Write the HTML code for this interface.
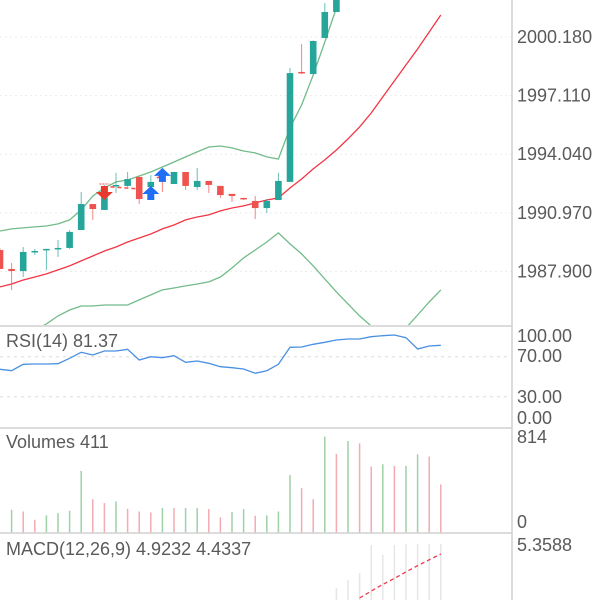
<!DOCTYPE html>
<html><head><meta charset="utf-8"><style>
html,body{margin:0;padding:0;background:#fff;}
svg{display:block;font-family:"Liberation Sans",sans-serif;}
</style></head><body>
<svg id="chart" width="600" height="600" viewBox="0 0 600 600" xmlns="http://www.w3.org/2000/svg">
<rect x="0" y="0" width="600" height="600" fill="#fff"/>
<g id="grid"></g>
<g id="main"></g>
<g id="rsi"></g>
<g id="vol"></g>
<g id="macd"></g>
<g id="frame">
<line x1="512" y1="0" x2="512" y2="600" stroke="#d0d0d0" stroke-width="1.5"/>
<line x1="0" y1="326" x2="512" y2="326" stroke="#d0d0d0" stroke-width="1.5"/>
<line x1="0" y1="428" x2="512" y2="428" stroke="#d0d0d0" stroke-width="1.5"/>
<line x1="0" y1="533" x2="512" y2="533" stroke="#d0d0d0" stroke-width="1.5"/>
</g>
<g id="labels" font-size="18" fill="#5a5a5a"></g>
</svg>
<script>
// ---- data ----
const idx = [-1,0,1,2,3,4,5,6,7,8,9,10,11,12,13,14,15,16,17,18,19,20,21,22,23,24,25,26,27,28,29,30,31,32,33,34,35,36,37];
const openV  = [1989.02,1988.03,1987.92,1988.95,1989.06,1989.11,1989.13,1990.07,1991.43,1991.12,1992.41,1992.38,1992.85,1992.32,1992.69,1992.48,1993.11,1992.32,1992.64,1992.38,1991.96,1991.75,1991.59,1991.22,1991.64,1992.59,1998.35,1998.24,2000.13,2001.49,2002.38,2003.4,2004.6,2005.5,2006.6,2007.2,2008.1,2008.9,2008.4];
const highV  = [1989.10,1988.34,1989.18,1989.08,1989.08,1989.55,1990.07,1992.06,1991.43,1992.43,1993.06,1993.11,1992.85,1992.95,1993.06,1993.11,1993.11,1993.32,1992.64,1992.38,1991.96,1991.75,1991.85,1991.69,1993.06,1998.56,1999.81,2000.00,2001.96,2002.90,2003.8,2004.9,2005.9,2006.9,2007.5,2008.4,2009.2,2009.3,2008.8];
const lowV   = [1988.00,1986.93,1987.61,1988.76,1987.98,1988.66,1989.08,1990.07,1990.59,1991.12,1992.01,1992.32,1991.43,1992.06,1992.06,1992.48,1992.17,1992.17,1992.01,1991.75,1991.54,1991.64,1990.65,1990.96,1991.64,1992.59,1998.24,1998.24,2000.13,2001.49,2002.2,2003.2,2004.4,2005.3,2006.3,2007.0,2007.9,2008.2,2007.9];
const closeV = [1988.03,1987.92,1988.92,1988.97,1989.08,1989.13,1989.97,1991.43,1991.17,1992.22,1992.43,1992.74,1991.69,1992.59,1992.59,1993.11,1992.38,1992.64,1992.43,1991.90,1991.85,1991.69,1991.22,1991.59,1992.64,1998.29,1998.29,1999.97,2001.49,2002.38,2003.4,2004.6,2005.5,2006.6,2007.2,2008.1,2008.9,2008.4,2008.1];
const bollUpper = [1990.02,1990.13,1990.18,1990.23,1990.28,1990.39,1990.60,1991.12,1991.85,1992.27,1992.59,1992.69,1992.90,1993.11,1993.37,1993.63,1993.90,1994.16,1994.42,1994.47,1994.37,1994.21,1994.11,1993.90,1993.79,1995.42,1996.62,1998.19,1999.92,2001.70,2003.5,2005.2,2006.8,2008.2,2009.5,2010.6,2011.6,2012.4,2013.0];
const bollMid = [1987.09,1987.24,1987.45,1987.61,1987.77,1987.98,1988.19,1988.45,1988.71,1988.97,1989.18,1989.44,1989.65,1989.86,1990.13,1990.33,1990.60,1990.75,1990.86,1991.07,1991.22,1991.33,1991.49,1991.64,1991.75,1992.27,1992.74,1993.27,1993.74,1994.26,1994.84,1995.47,1996.20,1997.04,1997.88,1998.72,1999.55,2000.44,2001.33];
const bollLower = [1984.05,1984.31,1984.57,1984.83,1985.15,1985.57,1985.88,1986.09,1986.09,1986.14,1986.14,1986.14,1986.41,1986.67,1986.93,1987.03,1987.14,1987.24,1987.35,1987.61,1988.08,1988.61,1989.02,1989.44,1989.92,1989.34,1988.82,1988.19,1987.51,1986.83,1986.20,1985.57,1985.04,1984.57,1984.42,1984.94,1985.62,1986.30,1986.93];
const priceTicks = [2000.180,1997.110,1994.040,1990.970,1987.900];
const rsiV = [57.4,56.0,62.4,62.7,62.7,63.0,68.4,74.4,71.7,75.7,75.7,77.4,66.7,70.0,69.0,71.0,64.4,65.7,63.4,60.0,59.0,57.7,53.4,56.0,62.4,79.4,79.7,82.4,84.4,86.7,87.7,87.7,90.0,91.0,91.7,89.0,77.7,80.7,81.37];
const rsiTicks = [100,70,30,0];
const volIdx = [0,1,2,3,4,5,6,7,8,9,10,11,12,13,14,15,16,17,18,19,20,21,22,23,24,25,26,27,28,29,30,31,32,33,34,35,36,37];
const volV = [196,182,112,149,168,188,525,286,253,267,205,182,174,211,211,211,211,202,132,177,202,146,149,182,491,379,286,814,668,778,758,561,581,567,567,665,646,411];
const volUp = [1,0,0,1,1,1,1,0,0,1,0,0,0,1,0,1,1,0,0,1,1,0,1,1,1,0,0,1,0,1,0,0,1,0,1,1,0,0];
const macdIdx = [28,29,30,31,32,33,34,35,36,37];
const macdHist = [2.79,3.22,3.59,5.09,4.56,5.09,5.14,5.14,5.14,5.14];
const sigIdx = [30,31,32,33,34,35,36,37];
const sigV = [2.25,2.62,2.98,3.30,3.65,3.98,4.30,4.61];
const buyIdx = [12,13];
const sellIdx = [8];

// ---- axes ----
const NS="http://www.w3.org/2000/svg";
const xS = i => 11.6*(i+1);
const yP = p => 37 + (2000.18 - p)*19.09;
const yR = v => 426.7 - v;
const yV = v => 533 - v*(96.3/814);
const yM = v => 640 - v*18.66;
function mk(tag, attrs, parent){const e=document.createElementNS(NS,tag);for(const k in attrs)e.setAttribute(k,attrs[k]);parent.appendChild(e);return e;}
const G=id=>document.getElementById(id);
const GREEN="#26a69a", RED="#ef5350";

// grid
const grid=G('grid');
priceTicks.forEach(t=>{const l=mk('line',{x1:0,x2:512,y1:yP(t),y2:yP(t),stroke:'#ececec','stroke-dasharray':'2,3'},grid);

});
[70,30].forEach(t=>{const l=mk('line',{x1:0,x2:512,y1:yR(t),y2:yR(t),stroke:'#dcdcdc','stroke-dasharray':'3,4'},grid);

});

// main panel (clipped)
const main=G('main');
const defs=mk('defs',{},main);
const cp=mk('clipPath',{id:'mclip'},defs);mk('rect',{x:0,y:0,width:512,height:325},cp);
const mg=mk('g',{'clip-path':'url(#mclip)'},main);
function line(vals, ix, yf, color, parent, name, dash){
  const d=vals.map((v,k)=>(k?'L':'M')+xS(ix[k]).toFixed(1)+','+yf(v).toFixed(1)).join(' ');
  const p=mk('path',{d:d,fill:'none',stroke:color,'stroke-width':1.3},parent);
  if(dash)p.setAttribute('stroke-dasharray',dash);
  
  
  return p;
}
line(bollUpper, idx, yP, '#72bb8a', mg, 'bollinger-upper');
line(bollLower, idx, yP, '#72bb8a', mg, 'bollinger-lower');
line(bollMid, idx, yP, '#f23645', mg, 'bollinger-middle');
idx.forEach((i,k)=>{
  const up=closeV[k]>=openV[k]; const c=up?GREEN:RED; const x=xS(i);
  const g=mk('g',{},mg);
  
  
  mk('line',{x1:x,x2:x,y1:yP(highV[k]),y2:yP(lowV[k]),stroke:c,'stroke-width':1,opacity:0.7},g);
  const top=yP(Math.max(openV[k],closeV[k])), bot=yP(Math.min(openV[k],closeV[k]));
  mk('rect',{x:x-3.3,y:top,width:6.6,height:Math.max(1.5,bot-top),fill:c},g);
});
// signal markers
const dash1=mk('path',{d:`M${xS(8)+6},${yP(1992.33)} L${xS(11)},${yP(1992.22)} M${xS(12)+6},${yP(1992.80)} L${xS(13)+2},${yP(1992.95)}`,stroke:RED,'stroke-width':1.5,'stroke-dasharray':'4,3',fill:'none'},mg);


sellIdx.forEach(i=>{const x=xS(i),y=yP(highV[i+1])+1;
  const a=mk('path',{d:`M${x-3.5},${y} h7 v6 h5 l-8.5,8 l-8.5,-8 h5 z`,fill:'#e8392e'},mg);
  
  
  mk('line',{x1:x-5,x2:x+5,y1:y-2,y2:y-2,stroke:RED,'stroke-width':1,'stroke-dasharray':'2,1'},mg);});
buyIdx.forEach((i,k)=>{const x=xS(i),y=k===0?yP(lowV[i+1])+8:yP(highV[i+1])+9;
  const a=mk('path',{d:`M${x},${y-14} l8.5,8 h-5 v6 h-7 v-6 h-5 z`,fill:'#1e6ff5'},mg);
  
  });

// RSI
const rsi=G('rsi');
line(rsiV, idx, yR, '#4a90e2', rsi, 'rsi-line');

// Volume
const vol=G('vol');
volIdx.forEach((i,k)=>{const x=xS(i);
  const b=mk('line',{x1:x,x2:x,y1:yV(volV[k]),y2:533,stroke:volUp[k]?'#9fd0a6':'#f4aab3','stroke-width':1.5},vol);
  
  });

// MACD
const macd=G('macd');
macdIdx.forEach((i,k)=>{const x=xS(i);
  const b=mk('line',{x1:x,x2:x,y1:yM(macdHist[k]),y2:600,stroke:'#e6e6e6','stroke-width':1.5},macd);
  
  });
line(sigV, sigIdx, yM, '#e8394a', macd, 'macd-signal-line', '4,3');

// labels
const lab=G('labels');
function txt(s,x,y,name){const t=mk('text',{x:x,y:y},lab);t.textContent=s;
  
  return t;}
priceTicks.forEach(t=>txt(t.toFixed(3),517,yP(t)+6,'price-tick-label'));
const rsiLabY=[342,362,403,424];
rsiTicks.forEach((t,k)=>txt(t.toFixed(2),517,rsiLabY[k],'rsi-tick-label'));
txt('814',517,443,'volume-max-label');
txt('0',517,528,'volume-min-label');
txt('5.3588',517,551,'macd-max-label');
txt('RSI(14) 81.37',6,347,'rsi-title');
txt('Volumes 411',6,448,'volume-title');
txt('MACD(12,26,9) 4.9232 4.4337',6,555,'macd-title');
</script>
</body></html>
